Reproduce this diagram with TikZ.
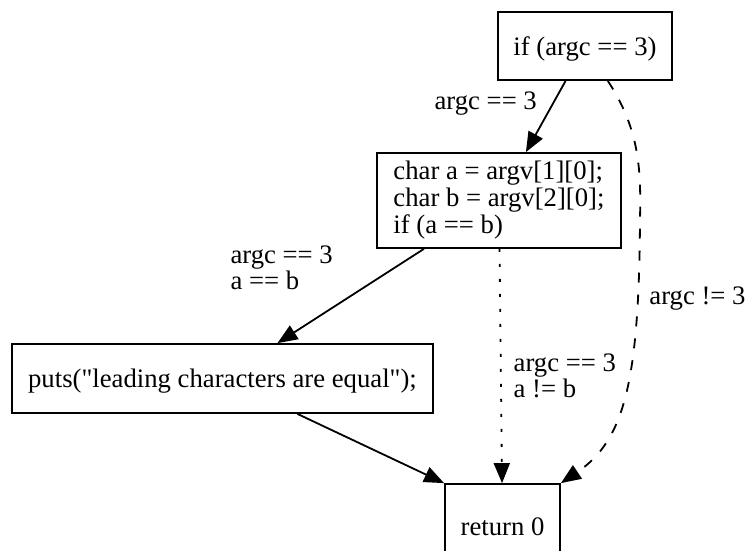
\documentclass[tikz,border=0pt]{standalone}
\usepackage{fontspec}
\setmainfont{Liberation Serif}[Ligatures=TeXOff]
\usetikzlibrary{arrows.meta}

\begin{document}
\begin{tikzpicture}[x=1pt, y=1pt,
    blk/.style={draw, line width=1.8pt, inner sep=0pt, font=\fontsize{26.7}{27}\selectfont},
    oneline/.style={text height=18pt, text depth=0pt},
    lbl/.style={inner sep=0pt, align=left, font=\fontsize{26.7}{26}\selectfont},
    flow/.style={line width=1.8pt, -{Triangle[length=20pt, width=16pt]}}]
    \useasboundingbox (0,0) rectangle (747,-550);

    \node [blk] [oneline] (cond) at (585,-46)      [minimum width=174pt, minimum height=68pt] {if (argc == 3)};
    \node [blk] [align=left] (body) at (499,-200.5) [minimum width=244pt, minimum height=95pt] {char a = argv[1][0];\\char b = argv[2][0];\\if (a == b)};
    \node [blk] [oneline] (same) at (222.5,-378.5) [minimum width=421pt, minimum height=69pt] {puts("leading characters are equal");};
    \node [blk] [oneline] (ret)  at (502.5,-526)   [minimum width=115pt, minimum height=84pt] {return 0};

    \draw [flow] (cond) --
        node [lbl, anchor=base east, xshift=-8pt, yshift=7pt] {argc == 3}
        (body);

    \draw [flow] (body) --
        node [lbl, anchor=south east, xshift=-17pt, yshift=5pt] {argc == 3\\a == b}
        (same);

    \draw [flow, dash pattern=on 3pt off 12pt] (body) --
        node [lbl, anchor=west, xshift=12pt, yshift=-10pt] {argc == 3\\a != b}
        (ret);

    \draw [flow] (same) -- (ret.north west);

    % else branch goes round the right side
    \draw [flow, dash pattern=on 10pt off 12pt] (cond) .. controls (640,-130) and (641,-170) .. (640,-220)
        .. controls (639,-380) and (625,-440) ..
        node [lbl, pos=0.2, anchor=base west, xshift=11pt] {argc != 3}
        (ret.north east);
\end{tikzpicture}
\end{document}
